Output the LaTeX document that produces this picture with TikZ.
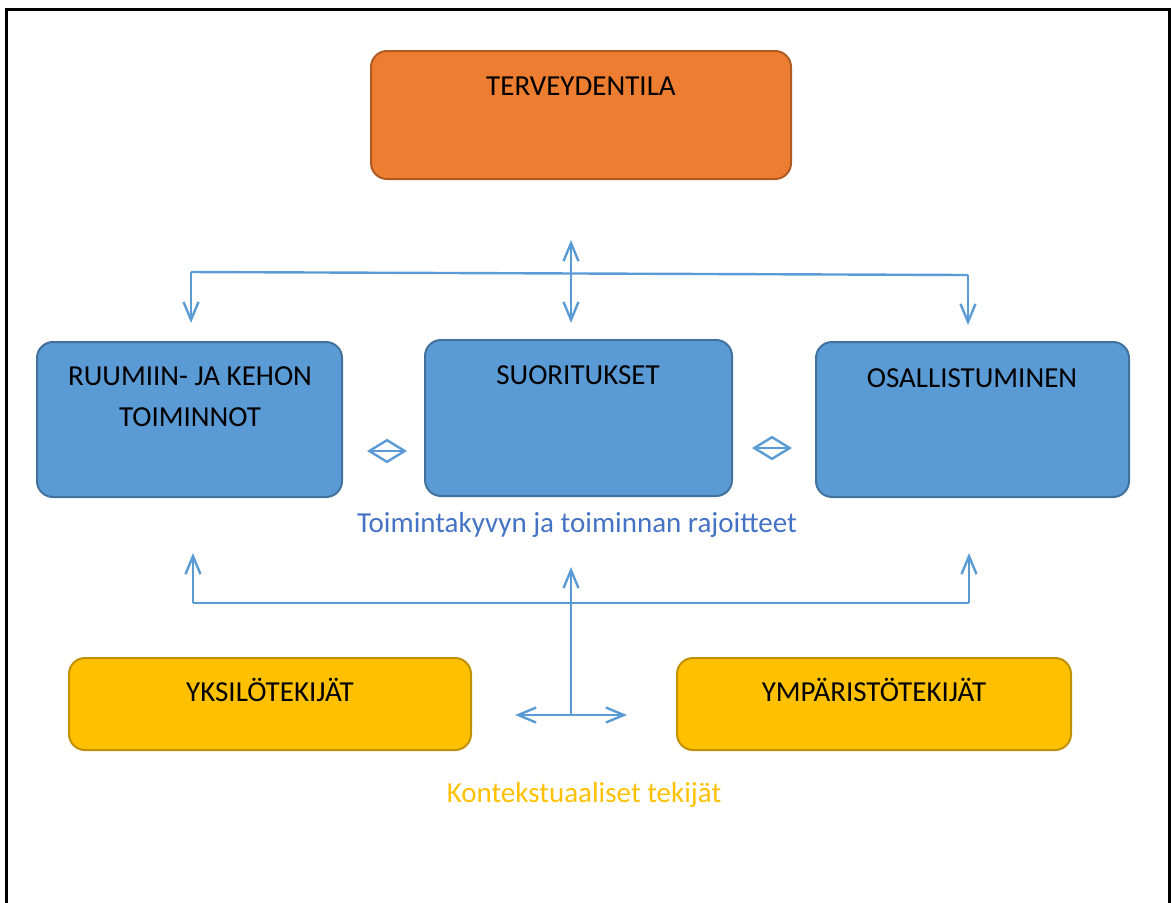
\documentclass[tikz,border=0pt]{standalone}
\usepackage{fontspec}
\setmainfont{Carlito}
\usepackage{tikz}
\usetikzlibrary{arrows.meta, positioning}
\definecolor{tilaorange}{HTML}{ED7D31}
\definecolor{tilaedge}{HTML}{AE5A21}
\definecolor{osablue}{HTML}{5B9BD5}
\definecolor{osaedge}{HTML}{41719C}
\definecolor{tekijayellow}{HTML}{FFC000}
\definecolor{tekijaedge}{HTML}{BF9000}
\definecolor{lineblue}{HTML}{5B9BD5}
\definecolor{textblue}{HTML}{4472C4}
\tikzstyle{box}=[rounded corners=8pt,line width=1pt,inner sep=0pt]
\tikzstyle{tilabox}=[box,fill=tilaorange,draw=tilaedge]
\tikzstyle{osabox}=[box,fill=osablue,draw=osaedge]
\tikzstyle{tekijabox}=[box,fill=tekijayellow,draw=tekijaedge]
\tikzstyle{boxtext}=[font=\fontsize{14.5}{20.5}\selectfont,align=center,inner sep=0pt]
\tikzstyle{mainedge}=[draw=lineblue,line width=1.2pt,-{Straight Barb[length=9pt,width=7.5pt]}]
\tikzstyle{bothedge}=[mainedge,{Straight Barb[length=9pt,width=7.5pt]}-{Straight Barb[length=9pt,width=7.5pt]}]
\tikzstyle{sideedge}=[draw=lineblue,line width=1.2pt,{Straight Barb[length=9pt,width=11pt]}-{Straight Barb[length=9pt,width=11pt]}]
\tikzstyle{plainedge}=[draw=lineblue,line width=1.2pt]

\begin{document}
\begin{tikzpicture}[x=0.5pt,y=-0.5pt]
\useasboundingbox (0,0) rectangle (1171,902);
\draw[line width=1.5pt] (6,903) -- (6,9) -- (1169,9) -- (1169,903);
% top box
\node[tilabox,minimum width=210pt,minimum height=64pt] (tila) at (581,115) {};
\node[boxtext] (tilatext) at (581,86) {TERVEYDENTILA};
% middle row
\node[osabox,minimum width=152.5pt,minimum height=77.5pt] (ruumis) at (189.5,419.5) {};
\node[boxtext] (ruumistext) at (190,397) {RUUMIIN- JA KEHON\\TOIMINNOT};
\node[osabox,minimum width=153.5pt,minimum height=78pt] (suor) at (578.5,418) {};
\node[boxtext] (suortext) at (578,375) {SUORITUKSET};
\node[osabox,minimum width=156.5pt,minimum height=77.5pt] (osa) at (972.5,419.5) {};
\node[boxtext] (osatext) at (972,378) {OSALLISTUMINEN};
\node[boxtext,text=textblue] (rajoite) at (577,525) {Toimintakyvyn ja toiminnan rajoitteet};
% bottom row
\node[tekijabox,minimum width=201pt,minimum height=46pt] (yksilo) at (270,704) {};
\node[boxtext] (yksilotext) at (270,690) {YKSILÖTEKIJÄT};
\node[tekijabox,minimum width=197pt,minimum height=46pt] (ymparisto) at (874,704) {};
\node[boxtext] (ymparistotext) at (874,690) {YMPÄRISTÖTEKIJÄT};
\node[boxtext,text=tekijayellow] (konteksti) at (584,795) {Kontekstuaaliset tekijät};
% upper connectors
\coordinate (ylakeski) at (571,240);
\coordinate (ylasuor) at (571,323);
\coordinate (ylavasen) at (191,272);
\coordinate (ylaoikea) at (968,275);
\coordinate (ylaruumis) at (191,323);
\coordinate (ylaosa) at (968,325);
\draw[bothedge] (ylakeski) -- (ylasuor);
\draw[plainedge] (ylavasen) -- (ylaoikea);
\draw[mainedge] (ylavasen) -- (ylaruumis);
\draw[mainedge] (ylaoikea) -- (ylaosa);
% side connectors
\coordinate (sivu1a) at (367,451);
\coordinate (sivu1b) at (407,451);
\coordinate (sivu2a) at (752,448);
\coordinate (sivu2b) at (792,448);
\draw[sideedge] (sivu1a) -- (sivu1b);
\draw[sideedge] (sivu2a) -- (sivu2b);
% lower connectors
\coordinate (alavasen) at (193,603);
\coordinate (alaoikea) at (969,603);
\coordinate (alaruumis) at (193,553);
\coordinate (alaosa) at (969,553);
\coordinate (alakeski) at (571,715);
\coordinate (alasuor) at (571,567);
\coordinate (alayksilo) at (515,715);
\coordinate (alaymparisto) at (627,715);
\draw[plainedge] (alavasen) -- (alaoikea);
\draw[mainedge] (alavasen) -- (alaruumis);
\draw[mainedge] (alaoikea) -- (alaosa);
\draw[mainedge] (alakeski) -- (alasuor);
\draw[bothedge] (alayksilo) -- (alaymparisto);
\end{tikzpicture}
\end{document}
